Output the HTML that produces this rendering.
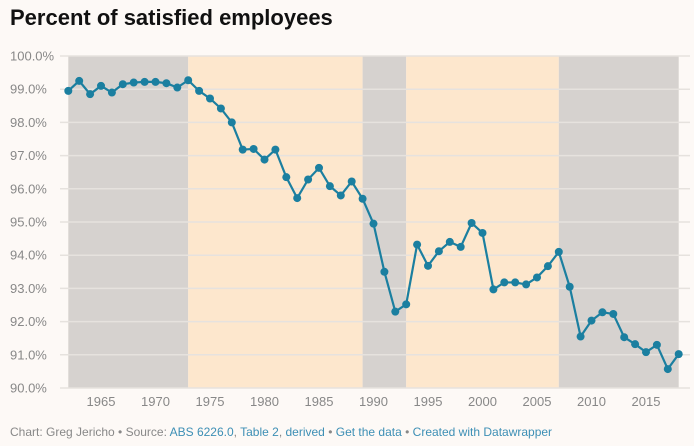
<!DOCTYPE html>
<html><head><meta charset="utf-8"><style>
body{margin:0;background:#fdf9f6;font-family:"Liberation Sans",sans-serif;}
#w{position:relative;width:694px;height:446px;overflow:hidden}
h1{position:absolute;left:10px;top:5px;margin:0;font-size:22px;font-weight:bold;color:#111}
#foot{position:absolute;left:10px;top:425px;font-size:12px;color:#888}
#foot span{color:#3d8fb5}
</style></head><body><div id="w">
<h1>Percent of satisfied employees</h1>
<svg id="c" width="694" height="446" style="position:absolute;left:0;top:0"></svg>
<div id="foot">Chart: Greg Jericho • Source: <span>ABS 6226.0</span>, <span>Table 2</span>, <span>derived</span> • <span>Get the data</span> • <span>Created with Datawrapper</span></div>
</div>
<script>
const years=[];for(let y=1962;y<=2018;y++)years.push(y);
const values=[98.95,99.25,98.85,99.1,98.9,99.15,99.2,99.22,99.22,99.18,99.05,99.27,98.95,98.72,98.42,98.0,97.18,97.2,96.88,97.18,96.35,95.72,96.28,96.63,96.08,95.8,96.22,95.7,94.95,93.5,92.3,92.52,94.32,93.68,94.12,94.4,94.25,94.97,94.67,92.97,93.18,93.18,93.12,93.33,93.67,94.1,93.05,91.55,92.03,92.28,92.23,91.53,91.32,91.08,91.3,90.57,91.02];
const yTicks=[100,99,98,97,96,95,94,93,92,91,90];
const xTicks=[1965,1970,1975,1980,1985,1990,1995,2000,2005,2010,2015];
const bands=[[1962,1973,'#d6d2cf'],[1973,1989,'#fde7cd'],[1989,1993,'#d6d2cf'],[1993,2007,'#fde7cd'],[2007,2018,'#d6d2cf']];
const NS='http://www.w3.org/2000/svg',svg=document.getElementById('c');
const X=y=>68.3+(y-1962)*10.9, Y=v=>56+(100-v)*33.2;
function mk(t,a){const e=document.createElementNS(NS,t);for(const k in a)e.setAttribute(k,a[k]);svg.appendChild(e);return e;}
bands.forEach(b=>{const r=mk('rect',{x:X(b[0]),y:Y(100),width:X(b[1])-X(b[0]),height:Y(90)-Y(100),fill:b[2]});

});
yTicks.forEach(v=>{const l=mk('line',{x1:60,x2:690,y1:Y(v),y2:Y(v),stroke:'#e6e2de','stroke-width':1.5});


const t=mk('text',{x:10,y:Y(v)+4.5,'font-size':13,fill:'#888'});t.textContent=v.toFixed(1)+'%';

});
xTicks.forEach(y=>{const t=mk('text',{x:X(y),y:406,'font-size':13,fill:'#888','text-anchor':'middle'});t.textContent=y;

});
const p=mk('polyline',{points:years.map((y,i)=>X(y)+','+Y(values[i])).join(' '),fill:'none',stroke:'#1b7fa0','stroke-width':2.2});


years.forEach((y,i)=>{const c=mk('circle',{cx:X(y),cy:Y(values[i]),r:4,fill:'#1b7fa0'});

});
</script></body></html>
